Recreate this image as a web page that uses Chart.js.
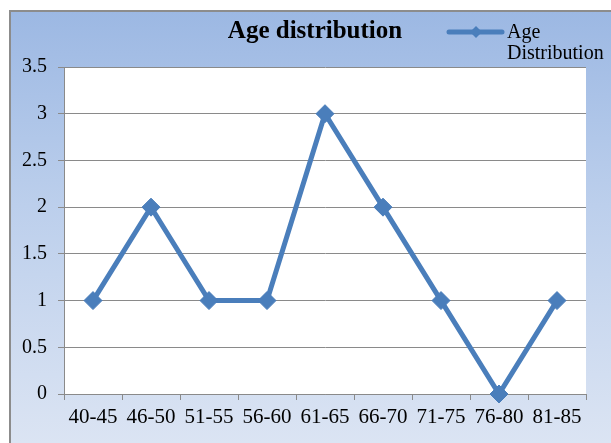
<!DOCTYPE html>
<html>
<head>
<meta charset="utf-8">
<script src="https://cdn.jsdelivr.net/npm/chart.js@4/dist/chart.umd.min.js"></script>
<style>
html,body{margin:0;padding:0;background:#fff;}
#c{display:block;}
</style>
</head>
<body>
<canvas id="c" width="611" height="443"></canvas>
<script>
const chartTitle = 'Age distribution';
const seriesName = ['Age', 'Distribution'];
const categories = ['40-45','46-50','51-55','56-60','61-65','66-70','71-75','76-80','81-85'];
const values = [1, 2, 1, 1, 3, 2, 1, 0, 1];
const yMin = 0, yMax = 3.5, yStep = 0.5;

const lineColor = '#4a7ebb';
const gridColor = '#8a8a8a';

const bgPlugin = {
  id: 'bg',
  beforeDraw(chart) {
    const ctx = chart.ctx;
    const W = chart.width, H = chart.height;
    ctx.save();
    ctx.fillStyle = '#ffffff';
    ctx.fillRect(0, 0, W, H);
    const g = ctx.createLinearGradient(0, 11, 0, H);
    g.addColorStop(0, '#9cb8e3');
    g.addColorStop(0.45, '#bccfec');
    g.addColorStop(1, '#dbe4f3');
    ctx.fillStyle = g;
    ctx.fillRect(10, 11, W, H);
    ctx.strokeStyle = '#8c8c8c';
    ctx.lineWidth = 2;
    ctx.beginPath();
    ctx.moveTo(10, H + 5);
    ctx.lineTo(10, 11);
    ctx.lineTo(W + 5, 11);
    ctx.stroke();
    const a = chart.chartArea;
    ctx.fillStyle = '#ffffff';
    ctx.fillRect(a.left, a.top, a.right - a.left, a.bottom - a.top);
    ctx.restore();
  },
  afterDraw(chart) {
    const ctx = chart.ctx;
    ctx.save();
    ctx.fillStyle = '#000';
    ctx.font = 'bold 25px "Liberation Serif"';
    ctx.textAlign = 'center';
    ctx.textBaseline = 'alphabetic';
    ctx.fillText(chartTitle, 315, 38);
    // legend
    ctx.strokeStyle = lineColor;
    ctx.lineWidth = 5;
    ctx.lineCap = 'round';
    ctx.beginPath();
    ctx.moveTo(449, 32);
    ctx.lineTo(502, 32);
    ctx.stroke();
    ctx.fillStyle = lineColor;
    ctx.beginPath();
    ctx.moveTo(476, 26);
    ctx.lineTo(482, 32);
    ctx.lineTo(476, 38);
    ctx.lineTo(470, 32);
    ctx.closePath();
    ctx.fill();
    ctx.fillStyle = '#000';
    ctx.font = '20px "Liberation Serif"';
    ctx.textAlign = 'left';
    ctx.fillText(seriesName[0], 507, 38);
    ctx.fillText(seriesName[1], 507, 59);
    ctx.restore();
  }
};

Chart.defaults.font.family = '"Liberation Serif", "Times New Roman", serif';
Chart.defaults.color = '#000';

new Chart(document.getElementById('c'), {
  type: 'line',
  data: {
    labels: categories,
    datasets: [{
      label: seriesName.join(' '),
      data: values,
      borderColor: lineColor,
      backgroundColor: lineColor,
      borderWidth: 5,
      tension: 0,
      pointStyle: 'rectRot',
      pointRadius: 9,
      pointHoverRadius: 9,
      pointBorderWidth: 1,
      pointBackgroundColor: lineColor,
      pointBorderColor: lineColor,
      clip: false
    }]
  },
  options: {
    responsive: false,
    animation: false,
    devicePixelRatio: 1,
    layout: { padding: { left: 10, right: 25, top: 67, bottom: 0 } },
    plugins: {
      legend: { display: false },
      title: { display: false },
      tooltip: { enabled: false }
    },
    scales: {
      x: {
        offset: true,
        grid: { display: true, drawOnChartArea: false, drawTicks: true, tickLength: 6, color: gridColor, offset: true },
        border: { display: true, color: gridColor, width: 1 },
        ticks: { font: { size: 21 }, padding: 5, maxRotation: 0, autoSkip: false },
        afterFit(s) { s.height = 49; }
      },
      y: {
        min: yMin, max: yMax,
        ticks: { stepSize: yStep, font: { size: 20 }, padding: 11, callback: v => String(v) },
        grid: { color: gridColor, tickLength: 6, drawTicks: true },
        border: { display: true, color: gridColor, width: 1 },
        afterFit(s) { s.width = 54; }
      }
    }
  },
  plugins: [bgPlugin]
});
</script>
</body>
</html>
